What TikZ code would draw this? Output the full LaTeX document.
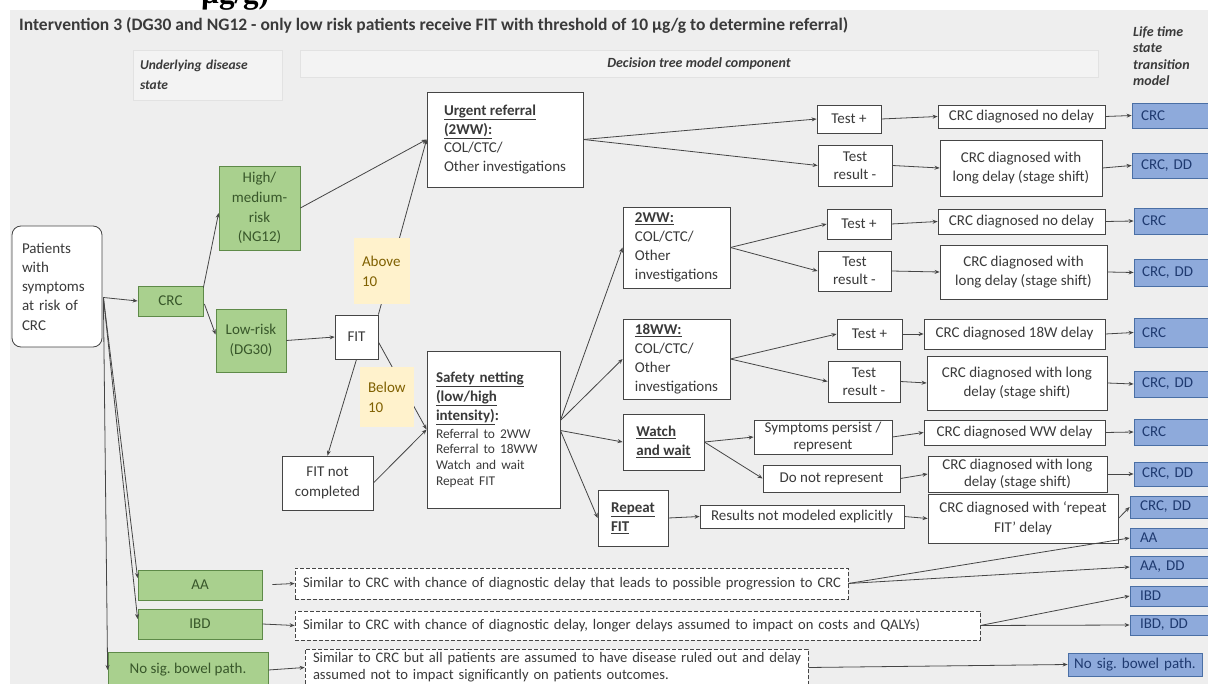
\documentclass[tikz,border=0pt]{standalone}
\usepackage{fontspec}
\setmainfont{Carlito}
\newfontfamily\tsrf{Liberation Serif}
\usetikzlibrary{calc,arrows.meta}
\frenchspacing
\definecolor{bgc}{HTML}{EEEEEE}
\definecolor{hdr}{HTML}{F3F3F3}
\definecolor{hdrl}{HTML}{E2E2E2}
\definecolor{gfill}{HTML}{A9D08E}
\definecolor{gline}{HTML}{5E8A48}
\definecolor{gtext}{HTML}{38572A}
\definecolor{bfill}{HTML}{8EAADB}
\definecolor{bline}{HTML}{4A6FA5}
\definecolor{btext}{HTML}{1F3A70}
\definecolor{yfill}{HTML}{FFF2CC}
\definecolor{ytext}{HTML}{7F6000}
\definecolor{ln}{HTML}{454545}
\definecolor{tx}{HTML}{3A3A3A}
\newcommand\bx[7]{\node[#6,minimum width={(#4-#2)*1pt},minimum height={(#5-#3)*1pt}] (#1) at ({(#2+#4)/2},{(#3+#5)/2}) {#7};}
\tikzset{
 base/.style={inner sep=0pt, align=center, font=\fontsize{15}{18.5}\selectfont, text=tx},
 wbox/.style={base, draw=ln, fill=white, line width=0.8pt},
 gbox/.style={base, draw=gline, fill=gfill, text=gtext, line width=0.8pt},
 bbox/.style={base, draw=bline, fill=bfill, text=btext, line width=0.8pt, align=left, text width=60pt},
 dbox/.style={base, draw=ln, fill=white, dash pattern=on 4pt off 2pt, line width=0.7pt, align=left, font=\fontsize{14.6}{17}\selectfont},
 ylab/.style={base, fill=yfill, text=ytext, align=left, font=\fontsize{15}{20}\selectfont},
 arr/.style={draw=ln, line width=0.8pt, -{Stealth[length=5pt,width=4pt]}},
 tbox/.style={wbox, align=left, font=\fontsize{15}{19}\selectfont},
}
\begin{document}
\begin{tikzpicture}[x=1pt,y=-1pt]
\useasboundingbox (0,0) rectangle (1208,684);
\fill[bgc] (10,10) rectangle (1208,684);
\node[anchor=base west, inner sep=0pt, font=\tsrf\bfseries\fontsize{31}{31}\selectfont] (mu) at (201,3.5) {µg/g)};
\node[anchor=base west, inner sep=0pt, font=\bfseries\fontsize{17.5}{20}\selectfont, text=tx] (title) at (19,30.5) {Intervention 3 (DG30 and NG12 - only low risk patients receive FIT with threshold of 10 µg/g to determine referral)};
% headers
\bx{hU}{133}{50}{282}{100}{base, fill=hdr, draw=hdrl, align=left, text width=135pt, font=\bfseries\itshape\fontsize{13.5}{20}\selectfont}{Underlying disease\\state}
\bx{hD}{300}{50}{1098}{77}{base, fill=hdr, draw=hdrl, font=\bfseries\itshape\fontsize{14}{17}\selectfont}{Decision tree model component}
\node[base, anchor=north west, align=left, font=\bfseries\itshape\fontsize{14}{16.5}\selectfont] (hL) at (1133,26) {Life time\\state\\transition\\model};
% left part
\bx{pat}{12}{226}{102}{347}{wbox, rounded corners=9pt, align=left, text width=70pt, font=\fontsize{15}{19.3}\selectfont}{Patients\\with\\symptoms\\at risk of\\CRC}
\bx{gC}{138}{286}{203}{316}{gbox}{CRC}
\bx{gH}{219}{166}{300}{250}{gbox, font=\fontsize{15}{19.7}\selectfont}{High/\\medium-\\risk\\(NG12)}
\bx{gL}{216}{309}{286}{372}{gbox, font=\fontsize{15}{20}\selectfont}{Low-risk\\(DG30)}
\bx{fit}{335}{315}{378}{359}{wbox}{FIT}
\bx{fnc}{282}{456}{373}{510}{wbox, font=\fontsize{15}{20}\selectfont}{FIT not\\completed}
\bx{urg}{427}{92}{583}{187}{wbox, align=left}{\textbf{\underline{Urgent referral}}\\\textbf{\underline{(2WW):}}\\COL/CTC/\\Other investigations}
\bx{saf}{427}{351}{560}{508}{wbox, align=left, text width=115pt, font=\fontsize{15}{19}\selectfont}{\textbf{\underline{Safety netting}}\\\textbf{\underline{(low/high}}\\\textbf{\underline{intensity)}:}\\[-1pt]{\fontsize{13.4}{15.7}\selectfont Referral to 2WW}\\[-3.3pt]{\fontsize{13.4}{15.7}\selectfont Referral to 18WW}\\[-3.3pt]{\fontsize{13.4}{15.7}\selectfont Watch and wait}\\[-3.3pt]{\fontsize{13.4}{15.7}\selectfont Repeat FIT}}
\bx{w2}{623}{207}{730}{288}{tbox}{\textbf{\underline{2WW:}}\\COL/CTC/\\Other\\investigations}
\bx{w18}{623}{319}{730}{399}{tbox}{\textbf{\underline{18WW:}}\\COL/CTC/\\Other\\investigations}
\bx{ww}{623}{414}{704}{470}{tbox}{\textbf{\underline{Watch}}\\\textbf{\underline{and wait}}}
\bx{rep}{598}{490}{668}{546}{tbox}{\textbf{\underline{Repeat}}\\\textbf{\underline{FIT}}}
% urgent branch
\bx{tp1}{817}{105}{881}{133}{wbox}{Test +}
\bx{tn1}{818}{145}{892}{186}{wbox, font=\fontsize{15}{18}\selectfont}{Test\\result -}
\bx{cn1}{938}{105}{1105}{128}{wbox}{CRC diagnosed no delay}
\bx{cl1}{940}{140}{1102}{196}{wbox, font=\fontsize{15}{19}\selectfont}{CRC diagnosed with\\long delay (stage shift)}
\bx{b1}{1132}{103}{1210}{128}{bbox}{CRC}
\bx{b2}{1132}{153}{1210}{178}{bbox}{CRC, DD}
% 2WW branch
\bx{tp2}{827}{209}{891}{239}{wbox}{Test +}
\bx{tn2}{818}{251}{891}{291}{wbox, font=\fontsize{15}{18}\selectfont}{Test\\result -}
\bx{cn2}{938}{209}{1105}{234}{wbox}{CRC diagnosed no delay}
\bx{cl2}{940}{245}{1107}{299}{wbox, font=\fontsize{15}{19}\selectfont}{CRC diagnosed with\\long delay (stage shift)}
\bx{b3}{1134}{208}{1210}{234}{bbox}{CRC}
\bx{b4}{1134}{259}{1210}{286}{bbox}{CRC, DD}
% 18WW branch
\bx{tp3}{837}{319}{902}{349}{wbox}{Test +}
\bx{tn3}{828}{361}{900}{402}{wbox, font=\fontsize{15}{18}\selectfont}{Test\\result -}
\bx{c18}{924}{319}{1105}{349}{wbox}{CRC diagnosed 18W delay}
\bx{cl3}{927}{356}{1107}{410}{wbox, font=\fontsize{15}{19}\selectfont}{CRC diagnosed with long\\delay (stage shift)}
\bx{b5}{1134}{318}{1210}{347}{bbox}{CRC}
\bx{b6}{1134}{371}{1210}{397}{bbox}{CRC, DD}
% watch branch
\bx{sp}{754}{420}{892}{454}{wbox, font=\fontsize{15}{17}\selectfont}{Symptoms persist /\\represent}
\bx{dnr}{763}{465}{900}{492}{wbox}{Do not represent}
\bx{cww}{924}{420}{1105}{445}{wbox}{CRC diagnosed WW delay}
\bx{cl4}{928}{456}{1107}{492}{wbox, font=\fontsize{15}{17}\selectfont}{CRC diagnosed with long\\delay (stage shift)}
\bx{b7}{1134}{419}{1210}{445}{bbox}{CRC}
\bx{b8}{1134}{462}{1210}{486}{bbox}{CRC, DD}
% repeat branch
\bx{rnm}{700}{505}{904}{528}{wbox}{Results not modeled explicitly}
\bx{crf}{928}{494}{1118}{543}{wbox, font=\fontsize{15}{20}\selectfont}{CRC diagnosed with ‘repeat\\FIT’ delay}
\bx{b9}{1130}{496}{1210}{518}{bbox}{CRC, DD}
\bx{b10}{1130}{528}{1210}{548}{bbox}{AA}
\bx{b11}{1130}{556}{1210}{578}{bbox}{AA, DD}
\bx{b12}{1130}{586}{1210}{606}{bbox}{IBD}
\bx{b13}{1130}{615}{1210}{635}{bbox}{IBD, DD}
\bx{b14}{1068}{653}{1202}{676}{bbox, align=center, text width=130pt}{No sig. bowel path.}
% bottom rows
\bx{gA}{138}{570}{262}{600}{gbox}{AA}
\bx{gI}{138}{609}{262}{639}{gbox}{IBD}
\bx{gN}{108}{652}{268}{688}{gbox}{No sig. bowel path.}
\bx{dA}{295}{568}{848}{599}{dbox, text width=537pt}{\mbox{Similar to CRC with chance of diagnostic delay that leads to possible progression to CRC}}
\bx{dI}{295}{611}{980}{640}{dbox, text width=669pt}{\mbox{Similar to CRC with chance of diagnostic delay, longer delays assumed to impact on costs and QALYs)}}
\bx{dN}{305}{649}{808}{686}{dbox, text width=487pt}{\mbox{Similar to CRC but all patients are assumed to have disease ruled out and delay}\\\mbox{assumed not to impact significantly on patients outcomes.}}
% connectors
\coordinate (po) at ($(pat.east)+(1,11)$);
\draw[arr] (po) -- (gC.west);
\draw[arr] ($(gC.north east)+(0,2)$) -- ($(gH.west)+(0,5)$);
\draw[arr] ($(gC.east)+(1,3)$) -- ($(gL.west)+(0,-6)$);
\draw[arr] (gH.east) -- (urg.west);
\draw[arr] (gL.east) -- (fit.west);
\draw[arr] (fit.north east) -- (urg.west);
\draw[arr] ($(fit.east)+(0,5)$) -- (saf.west);
\draw[arr] (fit.south) -- (fnc.north);
\draw[arr] (fnc.east) -- (saf.west);
\draw[arr] (urg.east) -- (tp1.west);
\draw[arr] (urg.east) -- (tn1.west);
\draw[arr] (tp1.east) -- (cn1.west);
\draw[arr] (tn1.east) -- (cl1.west);
\draw[arr] (cn1.east) -- (b1.west);
\draw[arr] (cl1.east) -- (b2.west);
\draw[arr] ($(saf.east)+(0,-9)$) -- (w2.west);
\draw[arr] ($(saf.east)+(0,-9)$) -- (w18.west);
\draw[arr] ($(saf.east)+(0,1)$) -- (ww.west);
\draw[arr] ($(saf.east)+(0,1)$) -- (rep.west);
\draw[arr] (w2.east) -- (tp2.west);
\draw[arr] (w2.east) -- (tn2.west);
\draw[arr] (tp2.east) -- (cn2.west);
\draw[arr] (tn2.east) -- (cl2.west);
\draw[arr] (cn2.east) -- (b3.west);
\draw[arr] (cl2.east) -- (b4.west);
\draw[arr] (w18.east) -- (tp3.west);
\draw[arr] (w18.east) -- (tn3.west);
\draw[arr] (tp3.east) -- (c18.west);
\draw[arr] (tn3.east) -- (cl3.west);
\draw[arr] (c18.east) -- (b5.west);
\draw[arr] (cl3.east) -- (b6.west);
\draw[arr] (ww.east) -- (sp.west);
\draw[arr] (ww.east) -- (dnr.west);
\draw[arr] (sp.east) -- (cww.west);
\draw[arr] (dnr.east) -- (cl4.west);
\draw[arr] (cww.east) -- (b7.west);
\draw[arr] (cl4.east) -- (b8.west);
\draw[arr] (rep.east) -- (rnm.west);
\draw[arr] (rnm.east) -- (crf.west);
\draw[arr] (crf.east) -- (b9.west);
\draw[arr] (po) -- ($(gA.west)+(0,-7)$);
\draw[arr] (po) -- ($(gI.west)+(0,-5)$);
\draw[arr] (po) -- (gN.west);
\draw[arr, shorten <=10pt] (gA.east) -- (dA.west);
\draw[arr] (gI.east) -- (dI.west);
\draw[arr] (gN.east) -- (dN.west);
\draw[arr] (dA.east) -- (b10.west);
\draw[arr] (dA.east) -- (b11.west);
\draw[arr] (dI.east) -- (b12.west);
\draw[arr] (dI.east) -- (b13.west);
\draw[arr] (dN.east) -- (b14.west);
% threshold labels
\bx{ab}{354}{238}{410}{304}{ylab, text width=40pt}{Above\\10}
\bx{be}{360}{367}{414}{427}{ylab, text width=38pt}{Below\\10}
\end{tikzpicture}
\end{document}
